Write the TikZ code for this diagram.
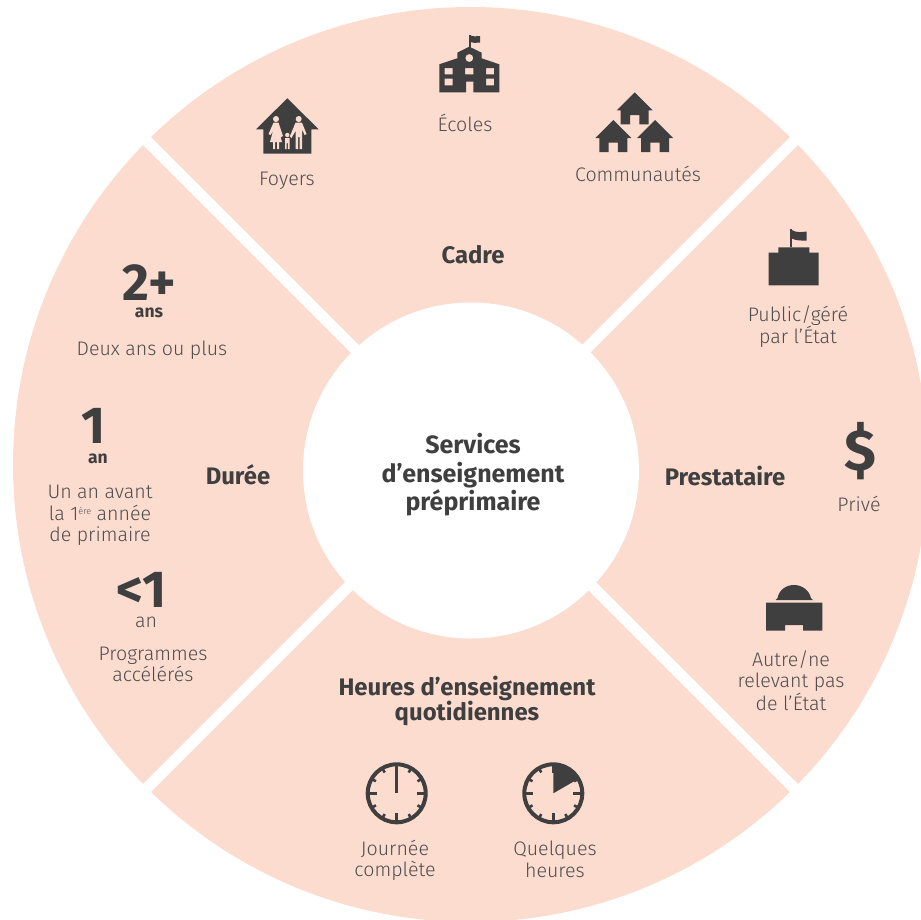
\documentclass[tikz,border=0pt]{standalone}
\usepackage{fontspec}
\setmainfont{Fira Sans}[UprightFont=* Light,BoldFont=* Bold]
\definecolor{peach}{HTML}{FDDCD0}
\definecolor{ink}{HTML}{3F3F3F}
\definecolor{soft}{HTML}{4D4D4D}
\newcommand{\txtfont}{\fontsize{19.6}{21.4}\selectfont}
\tikzset{
  lbl/.style={text=soft,align=center,inner sep=0pt,font=\txtfont},
  head/.style={text=ink,align=center,inner sep=0pt,font=\fontsize{23.9}{22.5}\selectfont\bfseries},
  big/.style={text=ink,inner sep=0pt,anchor=base,font=\fontsize{52}{52}\selectfont\bfseries},
  unit/.style={text=ink,inner sep=0pt,anchor=base,font=\fontsize{17.5}{18}\selectfont\bfseries},
  icon/.style={fill=ink,draw=none},
  cut/.style={fill=peach,draw=none},
  rim/.style={draw=ink,line width=4pt},
  tick/.style={draw=ink,line width=2.6pt}
}
\begin{document}
\begin{tikzpicture}[x=1pt,y=-1pt]
\useasboundingbox (0,0) rectangle (921,919);
\clip (0,0) rectangle (921,919);
\coordinate (c) at (471,470.5);
\coordinate (bc) at (470.5,464.5);
\fill[peach] (bc) circle[radius=457.5];
\draw[white,line width=11pt] (bc) ++(-345,-345) -- ++(690,690);
\draw[white,line width=11pt] (bc) ++(345,-345) -- ++(-690,690);
\node[circle,fill=white,minimum size=336pt,inner sep=0pt] (hub) at (c) {};
\node[head,font=\fontsize{25}{28.5}\selectfont\bfseries] (title) at (473,475) {Services\\d’enseignement\\préprimaire};
\node[head] (cadre) at (473,255) {Cadre};
\node[head] (prest) at (725,476) {Prestataire};
\node[head] (duree) at (238,475) {Durée};
\node[head] (heures) at (467,701) {Heures d’enseignement\\quotidiennes};
\node[lbl] (foyers) at (287,180.5) {Foyers};
\node[lbl] (ecoles) at (465,123) {Écoles};
\node[lbl] (comm) at (638,174) {Communautés};
\node[lbl] (public) at (798,326.5) {Public/géré\\par l’État};
\node[lbl] (prive) at (859,504) {Privé};
\node[lbl] (autre) at (791,680.5) {Autre/ne\\relevant pas\\de l’État};
\node[lbl] (journee) at (395,860.5) {Journée\\complète};
\node[lbl] (quelques) at (555,859.5) {Quelques\\heures};
\node[lbl] (deux) at (152,350) {Deux ans ou plus};
\node[lbl] (unan) at (100,515.5) {Un an avant\\la 1\raisebox{0.55ex}{\fontsize{9}{9}\selectfont ère} année\\de primaire};
\node[lbl] (prog) at (153,664.5) {Programmes\\accélérés};
\node[big] (n2) at (149,300) {2+};
\node[unit] (ans) at (149,317) {ans};
\node[big] (n1) at (94,443.5) {1};
\node[unit] (an1) at (98,463.5) {an};
\node[big] (n0) at (142,607.5) {<1};
\node[lbl,anchor=base] (an0) at (146,627) {an};
\node[text=ink,inner sep=0pt,font=\fontsize{58}{58}\selectfont\bfseries] (dollar) at (860.3,450.7) {\$};
% house with family
\fill[icon] (287.3,98.3) -- (318.7,129.3) -- (311.3,129.3) -- (311.3,153.7) -- (263.3,153.7) -- (263.3,129.3) -- (256,129.3) -- cycle;
\fill[cut] (276,119) circle[radius=3] (298.7,119) circle[radius=3] (287.3,135) circle[radius=2.2];
\fill[cut] (273.5,122.7) -- (278.5,122.7) -- (283,136) -- (281,137) -- (279,131) -- (282,142) -- (279,142) -- (279,149) -- (277,149) -- (277,142) -- (275,142) -- (275,149) -- (273,149) -- (273,142) -- (270,142) -- (273,131) -- (270.5,135) -- (268.5,134) -- cycle;
\fill[cut] (295.5,122.7) -- (302,122.7) -- (306.5,134) -- (304.5,135) -- (302,129) -- (302,149) -- (299.7,149) -- (299.7,137) -- (298,137) -- (298,149) -- (295.5,149) -- (295.5,131) -- (291.5,138) -- (289.8,136.5) -- cycle;
\fill[cut] (285,138) -- (289.6,138) -- (289.6,149) -- (287.9,149) -- (287.9,143) -- (286.7,143) -- (286.7,149) -- (285,149) -- cycle;
% school
\draw[ink,line width=1.6pt] (470,35) -- (470,50);
\fill[icon] (470.5,35.5) .. controls (475,37) and (476,36) .. (480,36) -- (480,42.5) .. controls (476,42.5) and (475,43.5) .. (470.5,42) -- cycle;
\fill[icon,even odd rule] (439.3,64.3) -- (457.3,58.3) -- (457.3,52.7) -- (469.3,46.7) -- (481.7,52.7) -- (481.7,58.3) -- (499.3,64.3) -- (499.3,92.3) -- (473.3,92.3) -- (473.3,81.7) -- (466,81.7) -- (466,92.3) -- (439.3,92.3) -- cycle
 (469.3,58) circle[radius=4]
 (444.5,68) rectangle (452.7,74.3) (444.5,78.7) rectangle (452.7,85.3)
 (465,68) rectangle (473.3,74.3)
 (486,68) rectangle (494,74.3) (486,78.7) rectangle (494,85.3);
% communities
\foreach \dx/\dy in {0/0,-21.4/27.7,20.3/27.7}{
 \fill[icon,xshift=\dx pt,yshift=-\dy pt] (634.7,92.3) -- (652.7,110.3) -- (648.7,110.3) -- (648.7,124.3) -- (639.3,124.3) -- (639.3,115) -- (630,115) -- (630,124.3) -- (620.7,124.3) -- (620.7,110.3) -- (616.7,110.3) -- cycle;
}
% public building
\fill[icon] (768.7,252.7) -- (778.3,252.7) -- (778.3,247.3) -- (809.3,247.3) -- (809.3,252.7) -- (818.7,252.7) -- (818.7,285.3) -- (768.7,285.3) -- cycle;
\fill[icon] (790,229.3) rectangle (791.7,247.3);
\fill[icon] (791.7,230) .. controls (797,233) and (801,232) .. (806.7,231.5) -- (806.7,240.5) .. controls (801,240.5) and (797,241) .. (791.7,238.5) -- cycle;
% domed building
\fill[icon] (775.7,600) -- (777.5,598) .. controls (779,590) and (786,585) .. (794,585) .. controls (802,585) and (809,590) .. (811,598) -- (813,600) -- cycle;
\fill[icon] (766,602.7) -- (822.3,602.7) -- (822.3,630.7) -- (803,630.7) -- (803,625) -- (785,625) -- (785,630.7) -- (766,630.7) -- cycle;
% clocks
\coordinate (k1) at (396.7,793.3);
\coordinate (k2) at (553.3,793.3);
\fill[icon] (k2) -- ++(0,-29) arc[start angle=-90,end angle=-30,radius=29] -- cycle;
\foreach \k in {k1,k2}{
 \draw[rim] (\k) circle[radius=29];
 \foreach \a in {0,90,180,270}{\draw[tick] (\k) ++(\a:29) -- ++(\a+180:9);}
 \foreach \a in {-60,-30,30,60,120,150,210,240}{\draw[tick] (\k) ++(\a:29) -- ++(\a+180:5);}
}
\draw[tick] (k1) -- ++(0,-29);
\end{tikzpicture}
\end{document}
